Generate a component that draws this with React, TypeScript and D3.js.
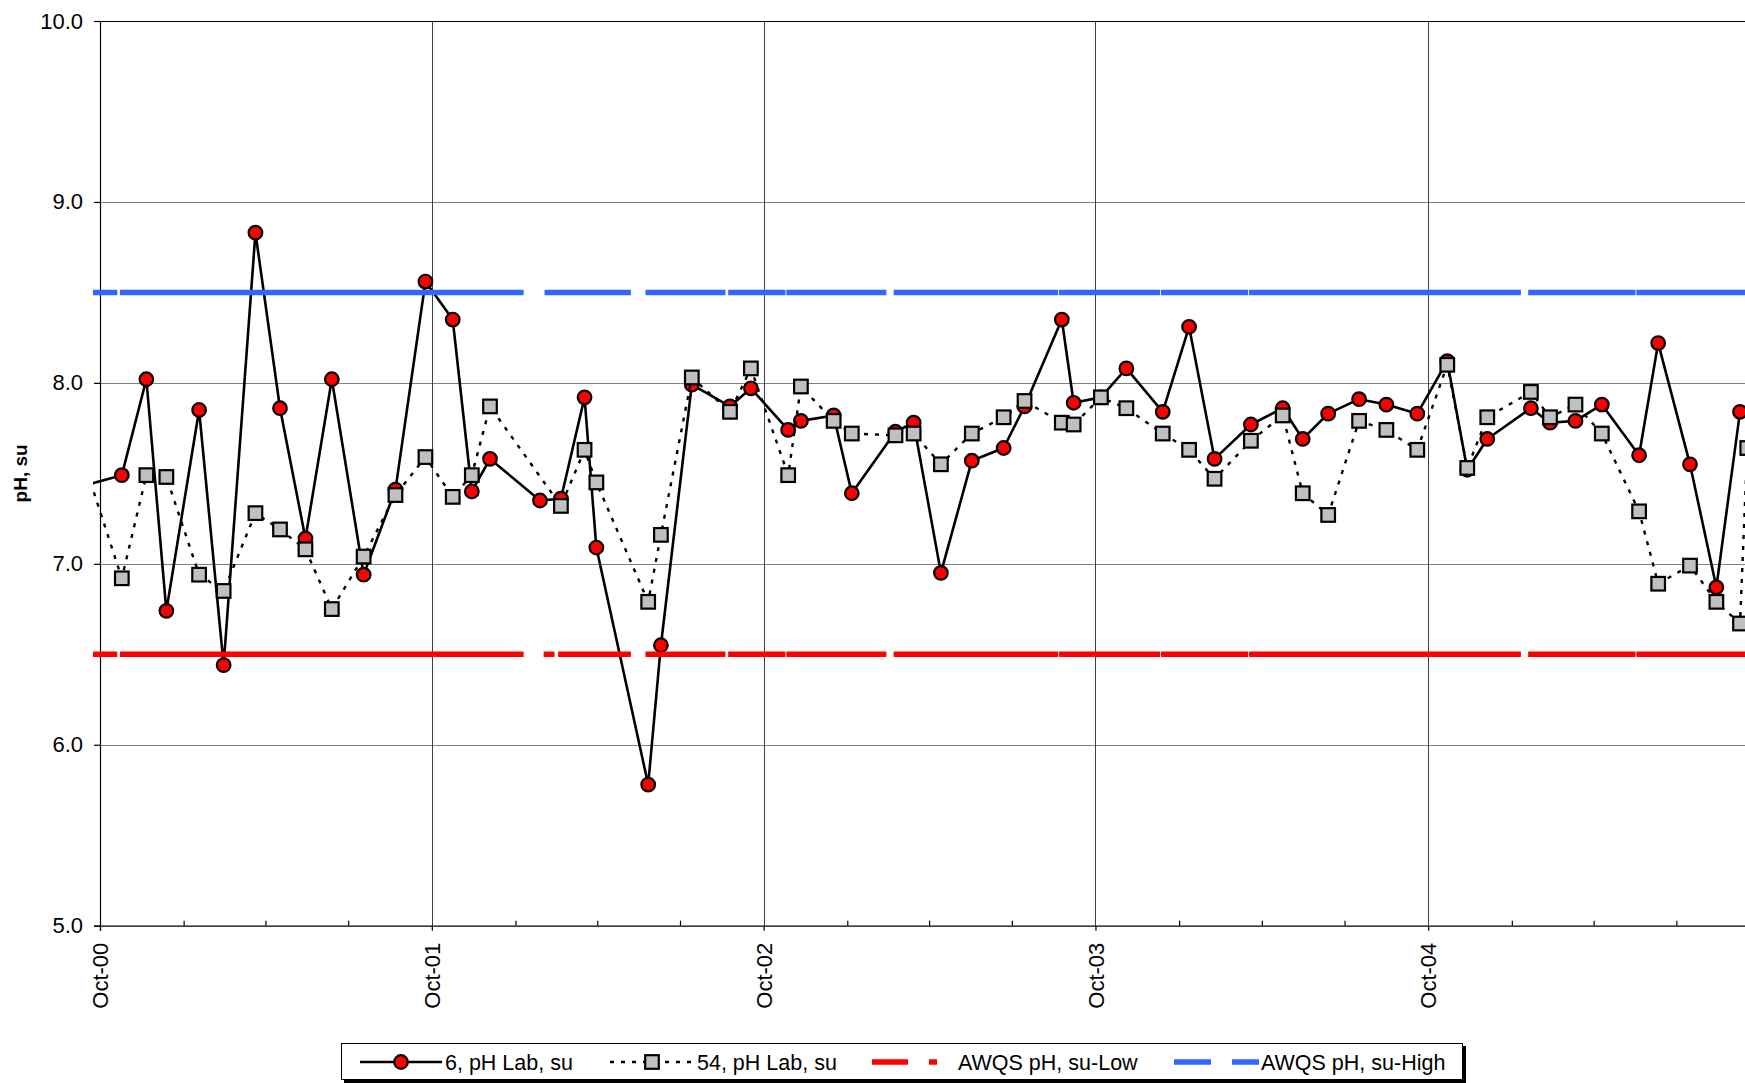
import * as d3 from "d3";
import React, { useEffect, useRef } from 'react'

// site 6, pH lab (su)
const site6Dates = [
  '2000-08-29', '2000-10-25', '2000-11-21', '2000-12-13', '2001-01-18', '2001-02-14',
  '2001-03-21', '2001-04-17', '2001-05-15', '2001-06-13', '2001-07-18', '2001-08-22',
  '2001-09-24', '2001-10-24', '2001-11-14', '2001-12-04', '2002-01-28', '2002-02-20',
  '2002-03-18', '2002-03-31', '2002-05-27', '2002-06-10', '2002-07-14', '2002-08-25',
  '2002-09-17', '2002-10-28', '2002-11-11', '2002-12-17', '2003-01-06', '2003-02-23',
  '2003-03-15', '2003-04-14', '2003-05-18', '2003-06-22', '2003-07-15', '2003-08-25',
  '2003-09-07', '2003-10-07', '2003-11-04', '2003-12-14', '2004-01-12', '2004-02-09',
  '2004-03-20', '2004-04-24', '2004-05-16', '2004-06-13', '2004-07-17', '2004-08-16',
  '2004-09-19', '2004-10-22', '2004-11-13', '2004-12-05', '2005-01-22', '2005-02-12',
  '2005-03-12', '2005-04-10', '2005-05-21', '2005-06-11', '2005-07-16', '2005-08-14',
  '2005-09-09'
]
const site6Values = [
  7.41, 7.49, 8.02, 6.74, 7.85, 6.44,
  8.83, 7.86, 7.14, 8.02, 6.94, 7.41,
  8.56, 8.35, 7.40, 7.58, 7.35, 7.36,
  7.92, 7.09, 5.78, 6.55, 7.99, 7.87,
  7.97, 7.74, 7.79, 7.82, 7.39, 7.73,
  7.78, 6.95, 7.57, 7.64, 7.87, 8.35,
  7.89, 7.92, 8.08, 7.84, 8.31, 7.58,
  7.77, 7.86, 7.69, 7.83, 7.91, 7.88,
  7.83, 8.12, 7.52, 7.69, 7.86, 7.78,
  7.79, 7.88, 7.60, 8.22, 7.55, 6.87,
  7.84
]

// site 54, pH lab (su)
const site54Dates = [
  '2000-08-29', '2000-10-25', '2000-11-21', '2000-12-13', '2001-01-18', '2001-02-14',
  '2001-03-21', '2001-04-17', '2001-05-15', '2001-06-13', '2001-07-18', '2001-08-22',
  '2001-09-24', '2001-10-24', '2001-11-14', '2001-12-04', '2002-02-20', '2002-03-18',
  '2002-03-31', '2002-05-27', '2002-06-10', '2002-07-14', '2002-08-25', '2002-09-17',
  '2002-10-28', '2002-11-11', '2002-12-17', '2003-01-06', '2003-02-23', '2003-03-15',
  '2003-04-14', '2003-05-18', '2003-06-22', '2003-07-15', '2003-08-25', '2003-09-07',
  '2003-10-07', '2003-11-04', '2003-12-14', '2004-01-12', '2004-02-09', '2004-03-20',
  '2004-04-24', '2004-05-16', '2004-06-13', '2004-07-17', '2004-08-16', '2004-09-19',
  '2004-10-22', '2004-11-13', '2004-12-05', '2005-01-22', '2005-02-12', '2005-03-12',
  '2005-04-10', '2005-05-21', '2005-06-11', '2005-07-16', '2005-08-14', '2005-09-09',
  '2005-09-17'
]
const site54Values = [
  7.80, 6.92, 7.49, 7.48, 6.94, 6.85,
  7.28, 7.19, 7.08, 6.75, 7.04, 7.38,
  7.59, 7.37, 7.49, 7.87, 7.32, 7.63,
  7.45, 6.79, 7.16, 8.03, 7.84, 8.08,
  7.49, 7.98, 7.79, 7.72, 7.71, 7.72,
  7.55, 7.72, 7.81, 7.90, 7.78, 7.77,
  7.92, 7.86, 7.72, 7.63, 7.47, 7.68,
  7.82, 7.39, 7.27, 7.79, 7.74, 7.63,
  8.10, 7.53, 7.81, 7.95, 7.81, 7.88,
  7.72, 7.29, 6.89, 6.99, 6.79, 6.67,
  7.64
]

// AWQS standards and the date spans where they are defined
const awqsLow = 6.5
const awqsHigh = 8.5
const awqsLowSpans = [
  ['2000-09-01', '2000-10-20'], ['2000-10-23', '2002-01-10'], ['2002-02-01', '2002-02-13'],
  ['2002-02-17', '2002-05-08'], ['2002-05-24', '2002-08-20'], ['2002-08-23', '2002-10-25'],
  ['2002-10-26', '2003-02-13'], ['2003-02-21', '2003-08-21'], ['2003-08-22', '2003-12-11'],
  ['2003-12-12', '2004-03-17'], ['2004-03-18', '2005-01-11'], ['2005-01-19', '2005-05-17'],
  ['2005-05-18', '2005-11-30']
]
const awqsHighSpans = [
  ['2000-09-01', '2000-10-20'], ['2000-10-23', '2002-01-10'], ['2002-02-02', '2002-05-08'],
  ['2002-05-24', '2002-08-20'], ['2002-08-23', '2002-10-25'], ['2002-10-26', '2003-02-13'],
  ['2003-02-21', '2003-08-21'], ['2003-08-22', '2003-12-11'], ['2003-12-12', '2004-03-17'],
  ['2004-03-18', '2005-01-11'], ['2005-01-19', '2005-05-17'], ['2005-05-18', '2005-11-30']
]

const yTicks = [5, 6, 7, 8, 9, 10]
const xTickDates = ['2000-10-01', '2001-10-01', '2002-10-01', '2003-10-01', '2004-10-01']
const xTickLabels = ['Oct-00', 'Oct-01', 'Oct-02', 'Oct-03', 'Oct-04']
const legendLabels = ['6, pH Lab, su', '54, pH Lab, su', 'AWQS pH, su-Low', 'AWQS pH, su-High']

const W = 1745
const H = 1083
const FONT = '"Liberation Sans", Arial, sans-serif'
const BLUE = '#3366ff'
const RED = '#ff0000'

const plotGraph = (node: SVGSVGElement) => {
  const parse = d3.timeParse('%Y-%m-%d')
  const svg = d3.select(node)

  const left = 100
  const top = 21
  const bottom = 925.7
  const right = 1760

  const x = d3.scaleTime()
    .domain([parse('2000-10-01') as Date, parse('2005-10-01') as Date])
    .range([left, right])
  const y = d3.scaleLinear()
    .domain([5, 10])
    .range([bottom, top])

  svg.append('defs').append('clipPath').attr('id', 'chartClip')
    .append('rect').attr('x', 93).attr('y', 0).attr('width', W - 93).attr('height', H)

  // gridlines
  svg.append('g').selectAll('line')
    .data(yTicks.filter(d => d > 5 && d < 10))
    .enter().append('line')
    .attr('x1', left).attr('x2', right)
    .attr('y1', d => Math.round(y(d)) + 0.5).attr('y2', d => Math.round(y(d)) + 0.5)
    .attr('stroke', '#808080').attr('stroke-width', 1)
  svg.append('g').selectAll('line')
    .data(xTickDates.slice(1))
    .enter().append('line')
    .attr('x1', d => Math.round(x(parse(d) as Date)) + 0.5)
    .attr('x2', d => Math.round(x(parse(d) as Date)) + 0.5)
    .attr('y1', top).attr('y2', bottom)
    .attr('stroke', '#404040').attr('stroke-width', 1)
  // top border
  svg.append('line')
    .attr('x1', left).attr('x2', right)
    .attr('y1', Math.round(y(10)) + 0.5).attr('y2', Math.round(y(10)) + 0.5)
    .attr('stroke', '#000').attr('stroke-width', 1)

  // y axis
  const yAxis = svg.append('g')
    .attr('transform', `translate(${left},0)`)
    .call(d3.axisLeft(y).tickValues(yTicks).tickFormat(d3.format('.1f')).tickSize(6).tickPadding(11))
  yAxis.selectAll('text').attr('font-family', FONT).attr('font-size', 22).attr('fill', '#000')
  yAxis.selectAll('line, path').attr('stroke', '#000').attr('stroke-width', 1.2)

  // x axis, minor quarterly ticks inside
  const minorTicks = d3.timeMonth.range(parse('2000-10-02') as Date, parse('2005-10-01') as Date, 1)
    .filter(d => d.getMonth() % 3 === 0 && d.getMonth() !== 9)
  const xMinor = svg.append('g')
    .attr('transform', `translate(0,${bottom})`)
    .call(d3.axisBottom(x).tickValues(minorTicks).tickSize(-5).tickFormat(() => ''))
  xMinor.select('.domain').remove()
  xMinor.selectAll('line').attr('stroke', '#000').attr('stroke-width', 1.2)

  const xAxis = svg.append('g')
    .attr('transform', `translate(0,${bottom})`)
    .call(d3.axisBottom(x)
      .tickValues(xTickDates.map(d => parse(d) as Date))
      .tickSize(5)
      .tickFormat((_d, i) => xTickLabels[i]))
  xAxis.selectAll('line, path').attr('stroke', '#000').attr('stroke-width', 1.2)
  xAxis.selectAll('text')
    .attr('font-family', FONT).attr('font-size', 22).attr('fill', '#000')
    .attr('transform', 'rotate(-90)')
    .attr('text-anchor', 'end')
    .attr('x', -17).attr('y', 0).attr('dy', '0.35em')

  // y title
  svg.append('text')
    .attr('transform', `translate(20,${(top + bottom) / 2}) rotate(-90)`)
    .attr('text-anchor', 'middle').attr('dy', '0.35em')
    .attr('font-family', FONT).attr('font-size', 19).attr('font-weight', 'bold')
    .text('pH, su')

  const plot = svg.append('g').attr('clip-path', 'url(#chartClip)')

  const site6 = site6Dates.map((d, i) => [parse(d) as Date, site6Values[i]] as [Date, number])
  const site54 = site54Dates.map((d, i) => [parse(d) as Date, site54Values[i]] as [Date, number])

  const line = d3.line<[Date, number]>()
    .x(d => x(d[0]))
    .y(d => y(d[1]))

  // series 6
  plot.append('path')
    .attr('d', line(site6))
    .attr('fill', 'none').attr('stroke', '#000').attr('stroke-width', 2.6)
    .attr('stroke-linejoin', 'round')
  plot.append('g').selectAll('circle')
    .data(site6)
    .enter().append('circle')
    .attr('cx', d => x(d[0])).attr('cy', d => y(d[1])).attr('r', 6.8)
    .attr('fill', RED).attr('stroke', '#000').attr('stroke-width', 2.2)

  // series 54
  plot.append('path')
    .attr('d', line(site54))
    .attr('fill', 'none').attr('stroke', '#000').attr('stroke-width', 2.4)
    .attr('stroke-dasharray', '4 7')
  plot.append('g').selectAll('rect')
    .data(site54)
    .enter().append('rect')
    .attr('x', d => x(d[0]) - 6.8).attr('y', d => y(d[1]) - 6.8)
    .attr('width', 13.6).attr('height', 13.6)
    .attr('fill', '#c0c0c0').attr('stroke', '#000').attr('stroke-width', 2.2)

  // AWQS standards
  const spans = (list: string[][], value: number, color: string) => {
    plot.append('g').selectAll('line')
      .data(list)
      .enter().append('line')
      .attr('x1', d => x(parse(d[0]) as Date)).attr('x2', d => x(parse(d[1]) as Date))
      .attr('y1', y(value)).attr('y2', y(value))
      .attr('stroke', color).attr('stroke-width', 5.5)
  }
  spans(awqsLowSpans, awqsLow, RED)
  spans(awqsHighSpans, awqsHigh, BLUE)

  // legend
  const ly = 1062
  svg.append('rect').attr('x', 344).attr('y', 1046).attr('width', 1122).attr('height', 37).attr('fill', '#000')
  svg.append('rect').attr('x', 341.5).attr('y', 1043.5).attr('width', 1121).attr('height', 36)
    .attr('fill', '#fff').attr('stroke', '#000').attr('stroke-width', 1)
  const lg = svg.append('g')
  lg.append('line').attr('x1', 360).attr('x2', 442).attr('y1', ly).attr('y2', ly)
    .attr('stroke', '#000').attr('stroke-width', 2.6)
  lg.append('circle').attr('cx', 401).attr('cy', ly).attr('r', 6.8)
    .attr('fill', RED).attr('stroke', '#000').attr('stroke-width', 2.2)
  lg.append('line').attr('x1', 610).attr('x2', 696).attr('y1', ly).attr('y2', ly)
    .attr('stroke', '#000').attr('stroke-width', 2.4).attr('stroke-dasharray', '4 7')
  lg.append('rect').attr('x', 652 - 6.8).attr('y', ly - 6.8).attr('width', 13.6).attr('height', 13.6)
    .attr('fill', '#c0c0c0').attr('stroke', '#000').attr('stroke-width', 2.2)
  lg.append('line').attr('x1', 872).attr('x2', 937).attr('y1', ly).attr('y2', ly)
    .attr('stroke', RED).attr('stroke-width', 5.5).attr('stroke-dasharray', '36 21')
  lg.append('line').attr('x1', 1174).attr('x2', 1259).attr('y1', ly).attr('y2', ly)
    .attr('stroke', BLUE).attr('stroke-width', 5.5).attr('stroke-dasharray', '37 21')
  const textX = [445, 697, 958, 1261]
  lg.selectAll('text.lbl')
    .data(legendLabels)
    .enter().append('text')
    .attr('class', 'lbl')
    .attr('x', (_d, i) => textX[i]).attr('y', ly).attr('dy', '0.35em')
    .attr('font-family', FONT).attr('font-size', 21.5)
    .text(d => d)
}

export default function App() {
  const ref = useRef<SVGSVGElement>(null)
  useEffect(() => {
    if (!ref.current) return
    plotGraph(ref.current)
    const node = ref.current
    return () => { d3.select(node).selectAll('*').remove() }
  }, [])
  return (
    <svg ref={ref} width={W} height={H}
      style={{ position: 'absolute', left: 0, top: 0, background: '#fff' }} />
  )
}
